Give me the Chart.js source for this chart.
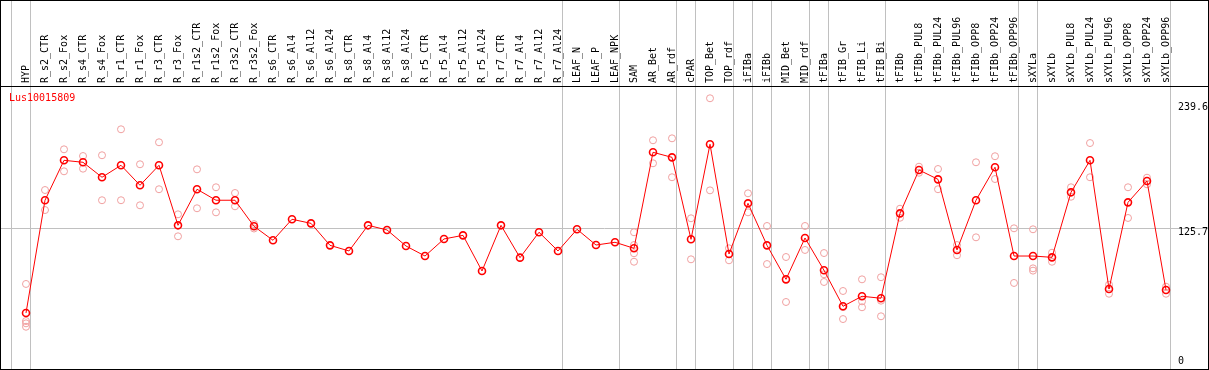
<!DOCTYPE html>
<html>
<head>
<meta charset="utf-8">
<script src="https://cdn.jsdelivr.net/npm/chart.js@4"></script>
<style>
  html, body { margin: 0; padding: 0; background: #fff; }
  #wrap { width: 1209px; height: 370px; border: 1px solid #000; box-sizing: border-box; }
</style>
</head>
<body>
<div id="wrap"><canvas id="geneChart" width="1207" height="368"></canvas></div>
<script>
const geneId = "Lus10015809";

const samples = [
  "HYP", "R_s2_CTR", "R_s2_Fox", "R_s4_CTR", "R_s4_Fox", "R_r1_CTR", "R_r1_Fox", "R_r3_CTR", "R_r3_Fox",
  "R_r1s2_CTR", "R_r1s2_Fox", "R_r3s2_CTR", "R_r3s2_Fox", "R_s6_CTR", "R_s6_Al4", "R_s6_Al12", "R_s6_Al24",
  "R_s8_CTR", "R_s8_Al4", "R_s8_Al12", "R_s8_Al24", "R_r5_CTR", "R_r5_Al4", "R_r5_Al12", "R_r5_Al24",
  "R_r7_CTR", "R_r7_Al4", "R_r7_Al12", "R_r7_Al24", "LEAF_N", "LEAF_P", "LEAF_NPK", "SAM", "AR_Bet", "AR_rdf",
  "cPAR", "TOP_Bet", "TOP_rdf", "iFIBa", "iFIBb", "MID_Bet", "MID_rdf", "tFIBa", "tFIB_Gr", "tFIB_Li", "tFIB_Bi",
  "tFIBb", "tFIBb_PUL8", "tFIBb_PUL24", "tFIBb_PUL96", "tFIBb_OPP8", "tFIBb_OPP24", "tFIBb_OPP96",
  "sXYLa", "sXYLb", "sXYLb_PUL8", "sXYLb_PUL24", "sXYLb_PUL96", "sXYLb_OPP8", "sXYLb_OPP24", "sXYLb_OPP96"
];

// mean expression per sample
const meanExpr = [
  48.7, 151.2, 187.5, 185.7, 172.1, 183.0, 164.8, 183.0, 128.4,
  161.2, 151.2, 151.2, 127.5, 114.8, 133.9, 130.2, 110.2,
  105.1, 128.4, 124.2, 109.6, 100.5, 116.0, 119.3, 86.9,
  128.4, 99.0, 122.1, 105.1, 124.8, 110.5, 113.0, 107.5, 194.8, 190.2,
  115.7, 202.1, 102.3, 148.4, 110.2, 79.3, 116.9, 87.5, 54.8, 63.9, 62.1,
  139.3, 178.7, 170.2, 106.0, 151.2, 181.2, 100.5,
  100.5, 99.3, 158.4, 187.5, 70.5, 149.3, 168.7, 69.6
];

// single replicates (null = no replicate)
const rep1 = [
  75.1, 160.5, 197.5, 191.4, 192.1, 215.7, 183.9, 203.9, 138.4,
  179.3, 163.0, 157.8, 129.5, null, null, null, null,
  null, null, null, null, null, null, null, null,
  null, null, null, null, null, null, null, 122.1, 205.7, 207.5,
  134.8, 243.9, 107.5, 157.5, 127.8, 99.6, 127.8, 103.2, 68.7, 79.3, 81.2,
  143.5, 181.7, 179.6, 110.5, 185.7, 191.2, 125.7,
  124.8, 103.5, 163.0, 203.2, 74.4, 163.0, 171.7, 72.6
];
const rep2 = [
  41.4, 142.3, 177.5, 179.9, 151.2, 151.2, 146.6, 161.2, 118.4,
  143.9, 140.2, 145.7, 125.5, null, null, null, null,
  null, null, null, null, null, null, null, null,
  null, null, null, null, null, null, null, 110.5, 184.8, 172.1,
  97.5, 160.2, 96.6, 140.2, 93.2, 58.7, 106.0, 83.9, 54.0, 59.3, 59.9,
  135.3, 176.2, 161.2, 101.2, 117.5, 170.5, 76.0,
  89.3, 95.3, 154.4, 172.1, 66.2, 135.1, 165.7, 66.2
];
const rep3 = [
  39.3, null, null, null, null, null, null, null, null,
  null, null, null, null, null, null, null, null,
  null, null, null, null, null, null, null, null,
  null, null, null, null, null, null, null, 103.0, null, null,
  null, null, null, null, null, null, null, 76.9, 43.2, 53.9, 45.7,
  null, null, null, null, null, null, null,
  87.2, null, null, null, null, null, null, null
];
const rep4 = [
  36.2, null, null, null, null, null, null, null, null,
  null, null, null, null, null, null, null, null,
  null, null, null, null, null, null, null, null,
  null, null, null, null, null, null, null, 95.3, null, null,
  null, null, null, null, null, null, null, null, null, null, null,
  null, null, null, null, null, null, null,
  null, null, null, null, null, null, null, null
];

// last sample index of each tissue group (separator lines)
const groupEnds = [-1, 0, 28, 31, 34, 35, 37, 38, 39, 41, 42, 45, 52, 53, 60];

const yTicks = [0, 125.7, 239.6];
const yTickLabels = ["0", "125.7", "239.6"];

const FONT = "'DejaVu Sans Mono', monospace";
const labelShift = 12 / 19; // rotated labels are drawn left of their tick
const sepShift = 0.24;

function toPoints(arr) {
    return arr.map((v, i) => ({ x: i, y: v })).filter((p) => p.y !== null);
}

function noPadding(scale) {
    scale.paddingLeft = 0;
    scale.paddingRight = 0;
    scale.paddingTop = 0;
    scale.paddingBottom = 0;
}

const repStyle = {
    showLine: false,
    pointRadius: 3.5,
    pointBorderWidth: 1,
    pointBorderColor: "#f0a0a0",
    pointBackgroundColor: "rgba(0,0,0,0)",
    borderColor: "#f0a0a0",
    order: 2,
};

const geneLabel = {
    id: "geneLabel",
    afterDraw(chart) {
        const { ctx, chartArea } = chart;
        ctx.save();
        ctx.font = "10px " + FONT;
        ctx.fillStyle = "#ff0000";
        ctx.textBaseline = "middle";
        ctx.fillText(geneId, chartArea.left + 8, chartArea.top + 12);
        ctx.restore();
    },
};

const ctx = document.getElementById("geneChart").getContext("2d");
new Chart(ctx, {
    type: "line",
    data: {
        datasets: [
            {
                label: "mean",
                data: toPoints(meanExpr),
                borderColor: "#ff0000",
                borderWidth: 1,
                pointRadius: 3.5,
                pointBorderWidth: 1.6,
                pointBorderColor: "#ff0000",
                pointBackgroundColor: "rgba(0,0,0,0)",
                tension: 0,
                order: 1,
            },
            { label: "rep1", data: toPoints(rep1), ...repStyle },
            { label: "rep2", data: toPoints(rep2), ...repStyle },
            { label: "rep3", data: toPoints(rep3), ...repStyle },
            { label: "rep4", data: toPoints(rep4), ...repStyle },
        ],
    },
    options: {
        responsive: false,
        animation: false,
        layout: { padding: 0, autoPadding: false },
        plugins: { legend: { display: false }, tooltip: { enabled: false } },
        scales: {
            x: {
                type: "linear",
                position: "top",
                min: -25 / 19,
                max: 1182 / 19,
                bounds: "data",
                afterBuildTicks: (scale) => {
                    scale.ticks = samples
                        .map((s, i) => ({ value: i + labelShift }))
                        .concat(groupEnds.map((g) => ({ value: g + sepShift })));
                },
                afterFit: (scale) => {
                    scale.height = 85;
                    noPadding(scale);
                },
                grid: {
                    color: (c) => (c.index >= samples.length ? "#c0c0c0" : "rgba(0,0,0,0)"),
                    lineWidth: 1,
                    drawTicks: true,
                    tickLength: 85,
                },
                border: { display: true, color: "#000", width: 1 },
                ticks: {
                    autoSkip: false,
                    minRotation: 90,
                    maxRotation: 90,
                    padding: -82,
                    color: "#000",
                    font: { family: FONT, size: 10 },
                    callback: (v, i) => (i < samples.length ? samples[i] : ""),
                },
            },
            y: {
                type: "linear",
                position: "right",
                min: -2.21,
                max: 255.06,
                bounds: "data",
                afterBuildTicks: (scale) => {
                    scale.ticks = yTicks.map((v) => ({ value: v }));
                },
                afterFit: (scale) => {
                    scale.width = 0;
                    noPadding(scale);
                },
                grid: {
                    color: (c) => (c.tick && c.tick.value === yTicks[1] ? "#c0c0c0" : "rgba(0,0,0,0)"),
                    drawTicks: false,
                },
                border: { display: false },
                ticks: {
                    mirror: true,
                    crossAlign: "far",
                    padding: 0,
                    labelOffset: 4,
                    color: "#000",
                    font: { family: FONT, size: 10, lineHeight: 1.8 },
                    callback: (v, i) => (i === 0 ? [yTickLabels[0], ""] : yTickLabels[i]),
                },
            },
        },
    },
    plugins: [geneLabel],
});
</script>
</body>
</html>
